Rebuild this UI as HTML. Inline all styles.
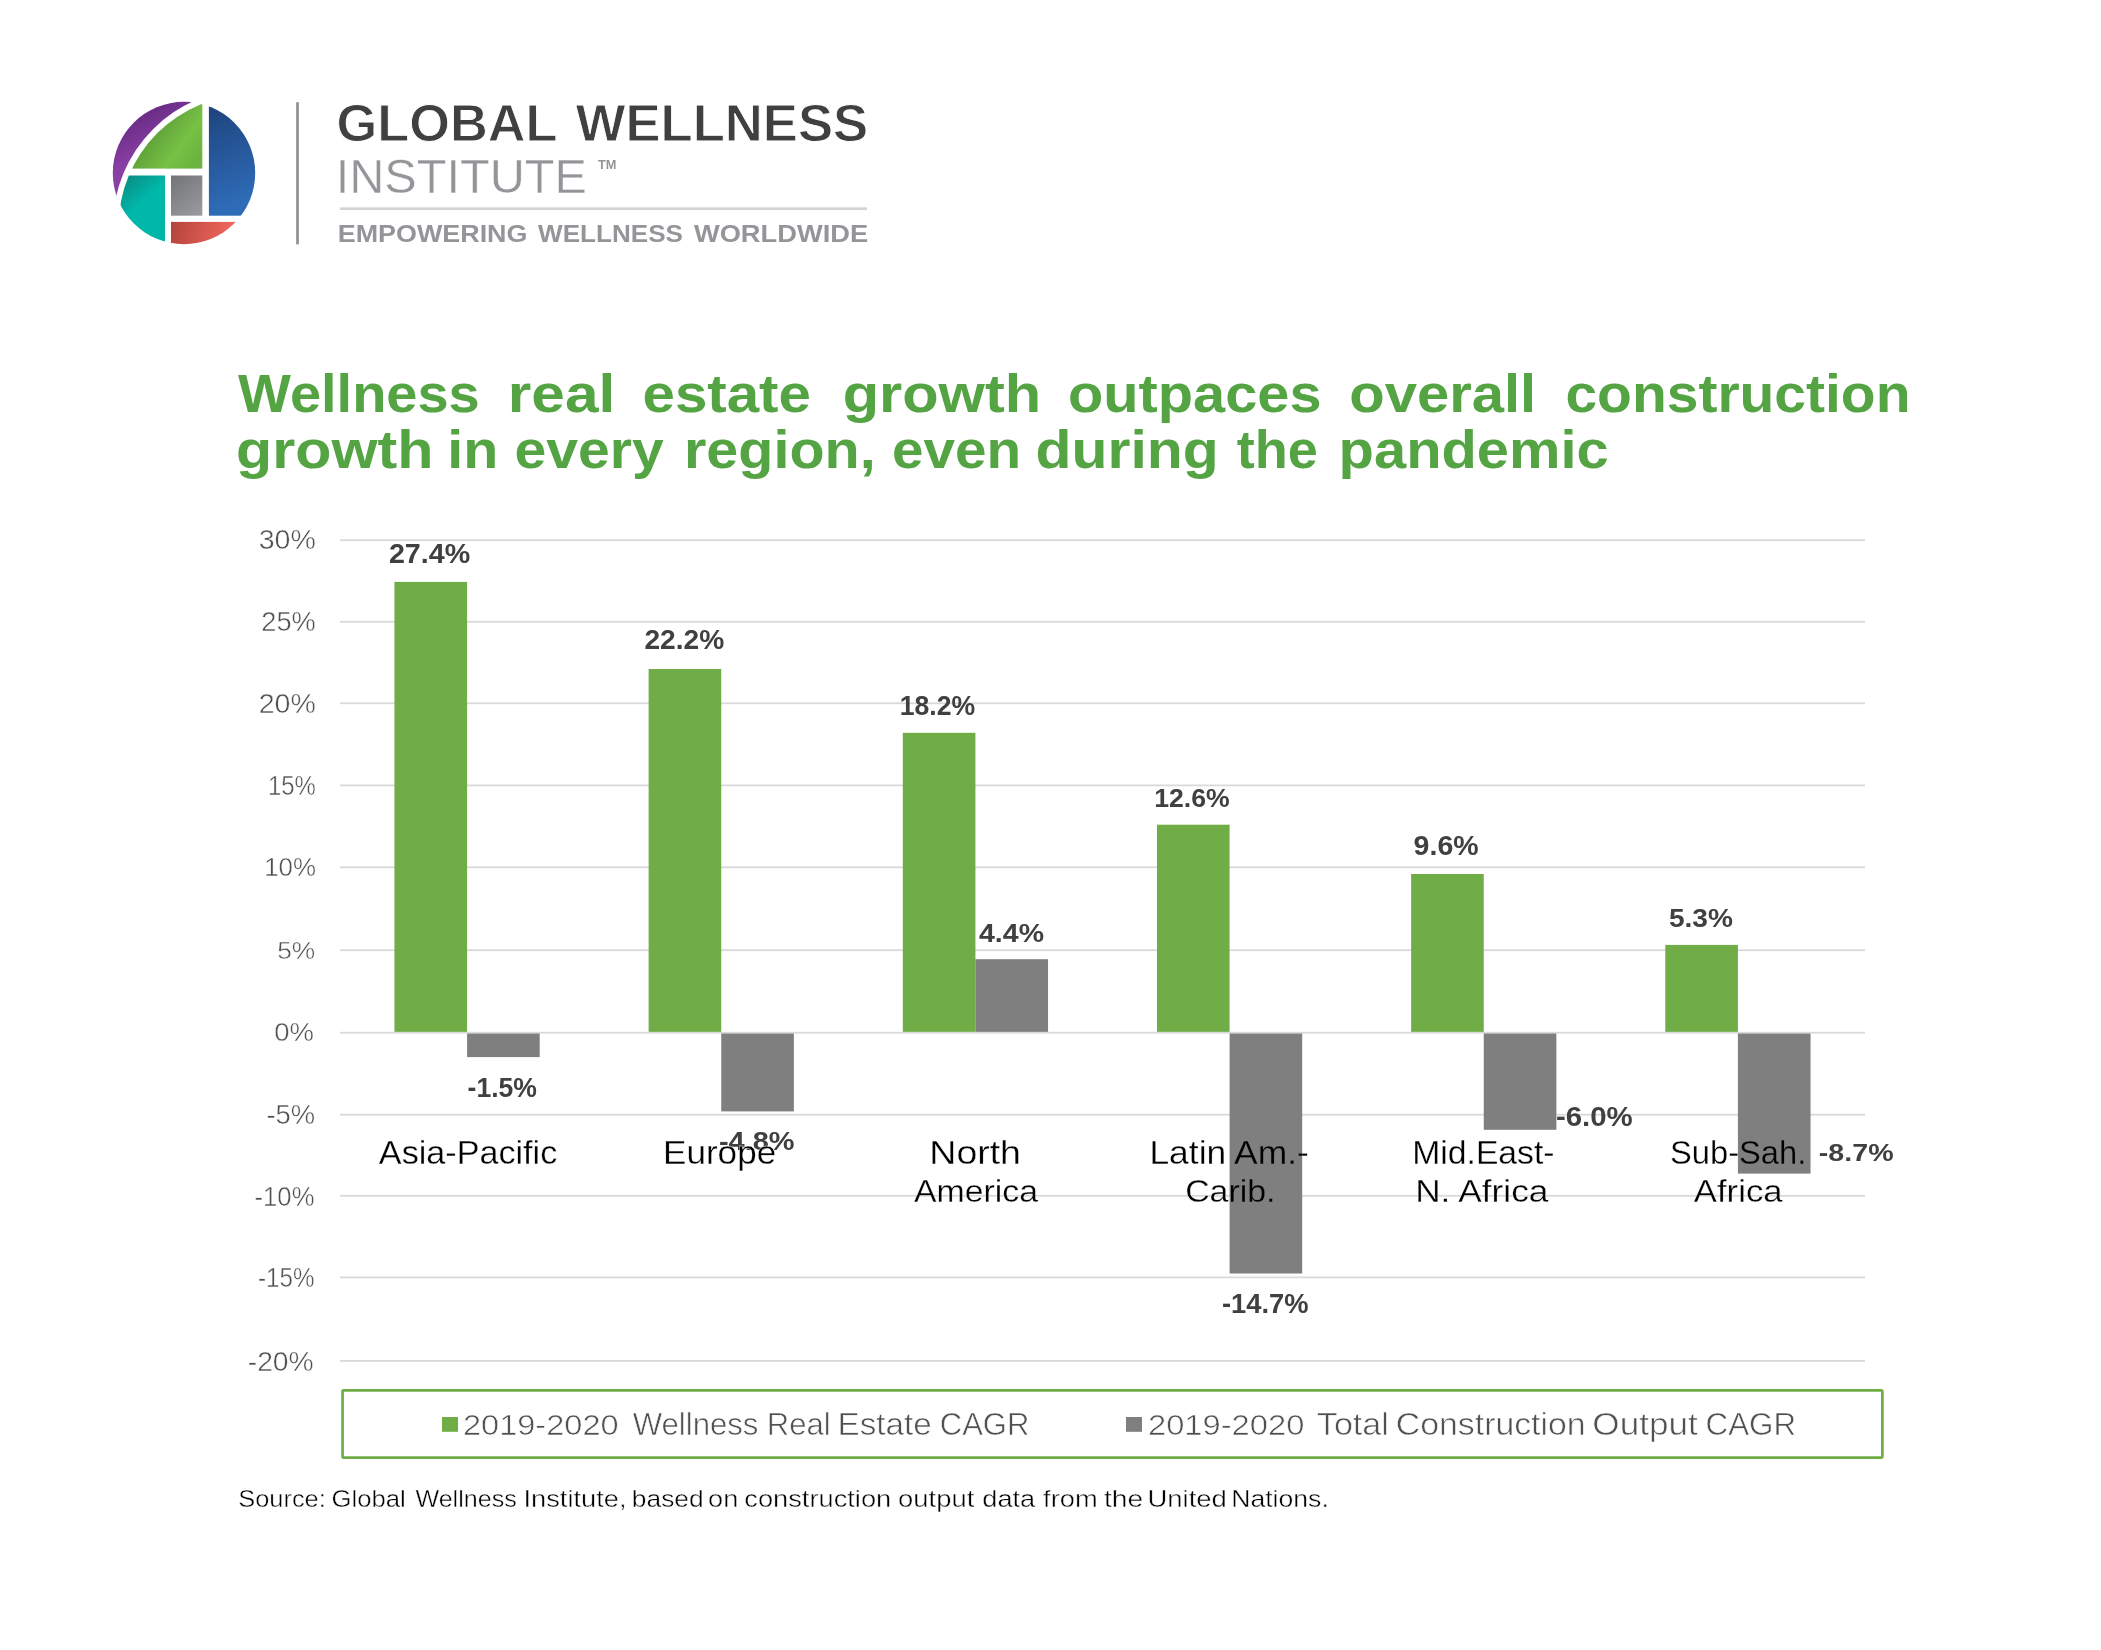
<!DOCTYPE html>
<html><head><meta charset="utf-8"><style>
html,body{margin:0;padding:0;background:#fff;}
svg{display:block;font-family:"Liberation Sans",sans-serif;will-change:transform;}
</style></head><body>
<svg width="2101" height="1650" viewBox="0 0 2101 1650">
<rect width="2101" height="1650" fill="#fff"/>

<defs>
 <clipPath id="cc"><circle cx="184.0" cy="173.0" r="71.2"/></clipPath>
 <clipPath id="cin"><circle cx="250.2" cy="226.3" r="131.6"/></clipPath>
 <linearGradient id="gp" gradientUnits="userSpaceOnUse" x1="128" y1="112" x2="150" y2="152"><stop offset="0" stop-color="#62287e"/><stop offset="1" stop-color="#8a3fa5"/></linearGradient>
 <linearGradient id="gg" gradientUnits="userSpaceOnUse" x1="150" y1="128" x2="196" y2="162"><stop offset="0" stop-color="#5a9c36"/><stop offset="0.62" stop-color="#77c145"/><stop offset="1" stop-color="#6ab43f"/></linearGradient>
 <linearGradient id="gb" gradientUnits="userSpaceOnUse" x1="212" y1="110" x2="250" y2="200"><stop offset="0" stop-color="#1e4580"/><stop offset="1" stop-color="#2f6cb8"/></linearGradient>
 <linearGradient id="gk" gradientUnits="userSpaceOnUse" x1="171" y1="176" x2="202" y2="215"><stop offset="0" stop-color="#737477"/><stop offset="1" stop-color="#9a9b9e"/></linearGradient>
 <linearGradient id="gt" gradientUnits="userSpaceOnUse" x1="125" y1="176" x2="160" y2="215"><stop offset="0" stop-color="#0a8b81"/><stop offset="0.6" stop-color="#00b8aa"/><stop offset="1" stop-color="#00b6a8"/></linearGradient>
 <linearGradient id="gr" gradientUnits="userSpaceOnUse" x1="172" y1="222" x2="232" y2="236"><stop offset="0" stop-color="#b5443e"/><stop offset="1" stop-color="#f2675b"/></linearGradient>
 <mask id="mp"><rect x="100" y="90" width="180" height="170" fill="#fff"/><circle cx="250.2" cy="226.3" r="137.4" fill="#000"/></mask>
</defs>
<g clip-path="url(#cc)">
 <rect x="100" y="90" width="180" height="170" fill="url(#gp)" mask="url(#mp)"/>
 <g clip-path="url(#cin)">
  <rect x="100" y="90" width="102.3" height="78.6" fill="url(#gg)"/>
  <rect x="100" y="175.5" width="65" height="90" fill="url(#gt)"/>
 </g>
 <rect x="208.9" y="90" width="60" height="125.7" fill="url(#gb)"/>
 <rect x="171" y="175.5" width="31.3" height="40.2" fill="url(#gk)"/>
 <rect x="171" y="221.9" width="100" height="40" fill="url(#gr)"/>
</g>
<rect x="296.1" y="102.2" width="2.8" height="142.2" fill="#939598"/>
<rect x="340" y="207.4" width="527" height="2.6" fill="#d1d3d4"/>

<rect x="340" y="539.30" width="1525" height="1.8" fill="#d9d9d9"/>
<rect x="340" y="620.90" width="1525" height="1.8" fill="#d9d9d9"/>
<rect x="340" y="702.40" width="1525" height="1.8" fill="#d9d9d9"/>
<rect x="340" y="784.50" width="1525" height="1.8" fill="#d9d9d9"/>
<rect x="340" y="866.40" width="1525" height="1.8" fill="#d9d9d9"/>
<rect x="340" y="949.30" width="1525" height="1.8" fill="#d9d9d9"/>
<rect x="340" y="1113.80" width="1525" height="1.8" fill="#d9d9d9"/>
<rect x="340" y="1194.90" width="1525" height="1.8" fill="#d9d9d9"/>
<rect x="340" y="1276.50" width="1525" height="1.8" fill="#d9d9d9"/>
<rect x="340" y="1360.00" width="1525" height="1.8" fill="#d9d9d9"/>
<rect x="394.46" y="581.9" width="72.62" height="450.80" fill="#70ad47"/>
<rect x="467.08" y="1032.70" width="72.62" height="24.40" fill="#7f7f7f"/>
<rect x="648.63" y="669.0" width="72.62" height="363.70" fill="#70ad47"/>
<rect x="721.25" y="1032.70" width="72.62" height="78.70" fill="#7f7f7f"/>
<rect x="902.80" y="732.8" width="72.62" height="299.90" fill="#70ad47"/>
<rect x="975.42" y="959.20" width="72.62" height="73.50" fill="#7f7f7f"/>
<rect x="1156.96" y="824.7" width="72.62" height="208.00" fill="#70ad47"/>
<rect x="1229.58" y="1032.70" width="72.62" height="240.80" fill="#7f7f7f"/>
<rect x="1411.13" y="874.0" width="72.62" height="158.70" fill="#70ad47"/>
<rect x="1483.75" y="1032.70" width="72.62" height="97.10" fill="#7f7f7f"/>
<rect x="1665.30" y="944.9" width="72.62" height="87.80" fill="#70ad47"/>
<rect x="1737.92" y="1032.70" width="72.62" height="140.90" fill="#7f7f7f"/>
<rect x="340" y="1031.80" width="1525" height="1.8" fill="#d9d9d9"/>
<rect x="342.55" y="1390.35" width="1539.8" height="67.3" rx="1" fill="none" stroke="#70ad47" stroke-width="2.7"/>
<rect x="442" y="1417" width="16" height="14.8" fill="#70ad47"/>
<rect x="1126" y="1417" width="16" height="14.8" fill="#7f7f7f"/>
<defs>
<clipPath id="in3"><rect x="1229.58" y="1032.7" width="72.62" height="240.80"/></clipPath>
<clipPath id="out3"><path clip-rule="evenodd" d="M0 0H2101V1650H0Z M1229.58 1032.7h72.62V1273.5H1229.58Z"/></clipPath>
<clipPath id="in5"><rect x="1737.92" y="1032.7" width="72.62" height="140.90"/></clipPath>
<clipPath id="out5"><path clip-rule="evenodd" d="M0 0H2101V1650H0Z M1737.92 1032.7h72.62V1173.6H1737.92Z"/></clipPath>
</defs>
<text x="336.46" y="141.45" font-size="52.616" font-weight="700" fill="#404041" textLength="221.10" lengthAdjust="spacingAndGlyphs" stroke="#fff" stroke-width="0.9">GLOBAL</text>
<text x="575.75" y="141.45" font-size="52.326" font-weight="700" fill="#404041" textLength="292.45" lengthAdjust="spacingAndGlyphs" stroke="#fff" stroke-width="0.9">WELLNESS</text>
<text x="335.69" y="193.10" font-size="47.384" font-weight="400" fill="#939598" textLength="251.32" lengthAdjust="spacingAndGlyphs" stroke="#fff" stroke-width="0.4">INSTITUTE</text>
<text x="597.90" y="169.30" font-size="12.500" font-weight="700" fill="#939598" textLength="18.38" lengthAdjust="spacingAndGlyphs">TM</text>
<text x="337.71" y="241.70" font-size="23.547" font-weight="700" fill="#939598" textLength="189.76" lengthAdjust="spacingAndGlyphs">EMPOWERING</text>
<text x="538.10" y="241.70" font-size="23.547" font-weight="700" fill="#939598" textLength="144.81" lengthAdjust="spacingAndGlyphs">WELLNESS</text>
<text x="693.90" y="241.70" font-size="23.547" font-weight="700" fill="#939598" textLength="174.22" lengthAdjust="spacingAndGlyphs">WORLDWIDE</text>
<text x="238.10" y="412.40" font-size="53.000" font-weight="700" fill="#54a444" textLength="241.65" lengthAdjust="spacingAndGlyphs">Wellness</text>
<text x="507.85" y="412.40" font-size="53.000" font-weight="700" fill="#54a444" textLength="107.36" lengthAdjust="spacingAndGlyphs">real</text>
<text x="642.50" y="412.40" font-size="53.000" font-weight="700" fill="#54a444" textLength="168.42" lengthAdjust="spacingAndGlyphs">estate</text>
<text x="842.75" y="412.40" font-size="53.000" font-weight="700" fill="#54a444" textLength="198.32" lengthAdjust="spacingAndGlyphs">growth</text>
<text x="1068.02" y="412.40" font-size="53.000" font-weight="700" fill="#54a444" textLength="253.61" lengthAdjust="spacingAndGlyphs">outpaces</text>
<text x="1349.21" y="412.40" font-size="53.000" font-weight="700" fill="#54a444" textLength="187.05" lengthAdjust="spacingAndGlyphs">overall</text>
<text x="1565.45" y="412.40" font-size="53.000" font-weight="700" fill="#54a444" textLength="345.02" lengthAdjust="spacingAndGlyphs">construction</text>
<text x="236.07" y="468.00" font-size="53.000" font-weight="700" fill="#54a444" textLength="197.28" lengthAdjust="spacingAndGlyphs">growth</text>
<text x="447.37" y="468.00" font-size="53.000" font-weight="700" fill="#54a444" textLength="51.00" lengthAdjust="spacingAndGlyphs">in</text>
<text x="514.54" y="468.00" font-size="53.000" font-weight="700" fill="#54a444" textLength="149.33" lengthAdjust="spacingAndGlyphs">every</text>
<text x="683.96" y="468.00" font-size="53.000" font-weight="700" fill="#54a444" textLength="191.74" lengthAdjust="spacingAndGlyphs">region,</text>
<text x="892.06" y="468.00" font-size="53.000" font-weight="700" fill="#54a444" textLength="129.14" lengthAdjust="spacingAndGlyphs">even</text>
<text x="1035.58" y="468.00" font-size="53.000" font-weight="700" fill="#54a444" textLength="183.21" lengthAdjust="spacingAndGlyphs">during</text>
<text x="1236.68" y="468.00" font-size="53.000" font-weight="700" fill="#54a444" textLength="81.15" lengthAdjust="spacingAndGlyphs">the</text>
<text x="1338.63" y="468.00" font-size="53.000" font-weight="700" fill="#54a444" textLength="270.10" lengthAdjust="spacingAndGlyphs">pandemic</text>
<text x="258.72" y="549.23" font-size="27.149" font-weight="400" fill="#505050" textLength="57.17" lengthAdjust="spacingAndGlyphs" stroke="#fff" stroke-width="0.45">30%</text>
<text x="261.27" y="631.12" font-size="27.149" font-weight="400" fill="#505050" textLength="54.56" lengthAdjust="spacingAndGlyphs" stroke="#fff" stroke-width="0.45">25%</text>
<text x="258.72" y="713.02" font-size="27.149" font-weight="400" fill="#505050" textLength="57.17" lengthAdjust="spacingAndGlyphs" stroke="#fff" stroke-width="0.45">20%</text>
<text x="268.01" y="794.73" font-size="27.149" font-weight="400" fill="#505050" textLength="47.86" lengthAdjust="spacingAndGlyphs" stroke="#fff" stroke-width="0.45">15%</text>
<text x="264.19" y="876.23" font-size="26.146" font-weight="400" fill="#505050" textLength="51.82" lengthAdjust="spacingAndGlyphs" stroke="#fff" stroke-width="0.45">10%</text>
<text x="277.20" y="958.73" font-size="24.570" font-weight="400" fill="#505050" textLength="38.07" lengthAdjust="spacingAndGlyphs" stroke="#fff" stroke-width="0.45">5%</text>
<text x="274.20" y="1041.22" font-size="25.573" font-weight="400" fill="#505050" textLength="39.75" lengthAdjust="spacingAndGlyphs" stroke="#fff" stroke-width="0.45">0%</text>
<text x="266.47" y="1123.72" font-size="27.149" font-weight="400" fill="#505050" textLength="48.72" lengthAdjust="spacingAndGlyphs" stroke="#fff" stroke-width="0.45">-5%</text>
<text x="254.53" y="1205.72" font-size="27.149" font-weight="400" fill="#505050" textLength="59.95" lengthAdjust="spacingAndGlyphs" stroke="#fff" stroke-width="0.45">-10%</text>
<text x="257.91" y="1287.32" font-size="27.865" font-weight="400" fill="#505050" textLength="56.53" lengthAdjust="spacingAndGlyphs" stroke="#fff" stroke-width="0.45">-15%</text>
<text x="247.74" y="1371.12" font-size="27.292" font-weight="400" fill="#505050" textLength="66.00" lengthAdjust="spacingAndGlyphs" stroke="#fff" stroke-width="0.45">-20%</text>
<text x="388.95" y="563.40" font-size="27.221" font-weight="700" fill="#404040" textLength="81.25" lengthAdjust="spacingAndGlyphs">27.4%</text>
<text x="644.45" y="649.20" font-size="26.791" font-weight="700" fill="#404040" textLength="79.84" lengthAdjust="spacingAndGlyphs">22.2%</text>
<text x="899.71" y="714.50" font-size="28.223" font-weight="700" fill="#404040" textLength="75.44" lengthAdjust="spacingAndGlyphs">18.2%</text>
<text x="1154.27" y="807.30" font-size="26.218" font-weight="700" fill="#404040" textLength="75.45" lengthAdjust="spacingAndGlyphs">12.6%</text>
<text x="1413.64" y="854.70" font-size="26.934" font-weight="700" fill="#404040" textLength="64.96" lengthAdjust="spacingAndGlyphs">9.6%</text>
<text x="1668.91" y="926.70" font-size="25.788" font-weight="700" fill="#404040" textLength="63.99" lengthAdjust="spacingAndGlyphs">5.3%</text>
<text x="467.55" y="1096.50" font-size="27.937" font-weight="700" fill="#404040" textLength="69.36" lengthAdjust="spacingAndGlyphs">-1.5%</text>
<text x="718.91" y="1150.00" font-size="26.648" font-weight="700" fill="#404040" textLength="75.70" lengthAdjust="spacingAndGlyphs">-4.8%</text>
<text x="979.00" y="941.80" font-size="26.648" font-weight="700" fill="#404040" textLength="65.04" lengthAdjust="spacingAndGlyphs">4.4%</text>
<text x="1221.99" y="1312.70" font-size="27.077" font-weight="700" fill="#404040" textLength="86.57" lengthAdjust="spacingAndGlyphs">-14.7%</text>
<text x="1555.96" y="1126.20" font-size="28.223" font-weight="700" fill="#404040" textLength="76.79" lengthAdjust="spacingAndGlyphs">-6.0%</text>
<text x="1818.84" y="1160.60" font-size="24.785" font-weight="700" fill="#404040" textLength="74.77" lengthAdjust="spacingAndGlyphs">-8.7%</text>
<text x="378.85" y="1163.85" font-size="32.849" font-weight="400" fill="#000000" textLength="178.44" lengthAdjust="spacingAndGlyphs" stroke="#fff" stroke-width="0.3">Asia-Pacific</text>
<text x="663.05" y="1163.85" font-size="32.849" font-weight="400" fill="#000000" textLength="113.09" lengthAdjust="spacingAndGlyphs" stroke="#fff" stroke-width="0.3">Europe</text>
<text x="929.33" y="1163.85" font-size="32.849" font-weight="400" fill="#000000" textLength="91.63" lengthAdjust="spacingAndGlyphs" stroke="#fff" stroke-width="0.3">North</text>
<text x="913.95" y="1201.75" font-size="32.267" font-weight="400" fill="#000000" textLength="124.10" lengthAdjust="spacingAndGlyphs" stroke="#fff" stroke-width="0.3">America</text>
<text x="1149.41" y="1163.85" font-size="32.849" font-weight="400" fill="#000000" textLength="159.48" lengthAdjust="spacingAndGlyphs" stroke="#7f7f7f" stroke-width="0.3" clip-path="url(#in3)">Latin Am.-</text>
<text x="1149.41" y="1163.85" font-size="32.849" font-weight="400" fill="#000000" textLength="159.48" lengthAdjust="spacingAndGlyphs" stroke="#fff" stroke-width="0.3" clip-path="url(#out3)">Latin Am.-</text>
<text x="1185.15" y="1201.75" font-size="32.267" font-weight="400" fill="#000000" textLength="90.39" lengthAdjust="spacingAndGlyphs" stroke="#7f7f7f" stroke-width="0.3" clip-path="url(#in3)">Carib.</text>
<text x="1185.15" y="1201.75" font-size="32.267" font-weight="400" fill="#000000" textLength="90.39" lengthAdjust="spacingAndGlyphs" stroke="#fff" stroke-width="0.3" clip-path="url(#out3)">Carib.</text>
<text x="1412.27" y="1163.85" font-size="32.849" font-weight="400" fill="#000000" textLength="142.26" lengthAdjust="spacingAndGlyphs" stroke="#fff" stroke-width="0.3">Mid.East-</text>
<text x="1415.17" y="1201.75" font-size="32.267" font-weight="400" fill="#000000" textLength="133.24" lengthAdjust="spacingAndGlyphs" stroke="#fff" stroke-width="0.3">N. Africa</text>
<text x="1670.06" y="1163.85" font-size="32.849" font-weight="400" fill="#000000" textLength="136.25" lengthAdjust="spacingAndGlyphs" stroke="#7f7f7f" stroke-width="0.3" clip-path="url(#in5)">Sub-Sah.</text>
<text x="1670.06" y="1163.85" font-size="32.849" font-weight="400" fill="#000000" textLength="136.25" lengthAdjust="spacingAndGlyphs" stroke="#fff" stroke-width="0.3" clip-path="url(#out5)">Sub-Sah.</text>
<text x="1693.85" y="1201.75" font-size="32.267" font-weight="400" fill="#000000" textLength="88.69" lengthAdjust="spacingAndGlyphs" stroke="#fff" stroke-width="0.3">Africa</text>
<text x="462.95" y="1435.20" font-size="30.372" font-weight="400" fill="#505050" textLength="155.72" lengthAdjust="spacingAndGlyphs" stroke="#fff" stroke-width="0.6">2019-2020</text>
<text x="632.70" y="1435.40" font-size="31.831" font-weight="400" fill="#505050" textLength="125.73" lengthAdjust="spacingAndGlyphs" stroke="#fff" stroke-width="0.6">Wellness</text>
<text x="766.77" y="1435.40" font-size="31.831" font-weight="400" fill="#505050" textLength="63.97" lengthAdjust="spacingAndGlyphs" stroke="#fff" stroke-width="0.6">Real</text>
<text x="837.57" y="1435.40" font-size="31.831" font-weight="400" fill="#505050" textLength="94.01" lengthAdjust="spacingAndGlyphs" stroke="#fff" stroke-width="0.6">Estate</text>
<text x="939.75" y="1435.40" font-size="31.831" font-weight="400" fill="#505050" textLength="89.67" lengthAdjust="spacingAndGlyphs" stroke="#fff" stroke-width="0.6">CAGR</text>
<text x="1147.95" y="1435.20" font-size="30.372" font-weight="400" fill="#505050" textLength="156.43" lengthAdjust="spacingAndGlyphs" stroke="#fff" stroke-width="0.6">2019-2020</text>
<text x="1316.83" y="1435.40" font-size="31.831" font-weight="400" fill="#505050" textLength="72.07" lengthAdjust="spacingAndGlyphs" stroke="#fff" stroke-width="0.6">Total</text>
<text x="1395.88" y="1435.40" font-size="31.831" font-weight="400" fill="#505050" textLength="189.72" lengthAdjust="spacingAndGlyphs" stroke="#fff" stroke-width="0.6">Construction</text>
<text x="1592.39" y="1435.40" font-size="31.831" font-weight="400" fill="#505050" textLength="105.41" lengthAdjust="spacingAndGlyphs" stroke="#fff" stroke-width="0.6">Output</text>
<text x="1705.53" y="1435.40" font-size="31.831" font-weight="400" fill="#505050" textLength="90.51" lengthAdjust="spacingAndGlyphs" stroke="#fff" stroke-width="0.6">CAGR</text>
<text x="238.21" y="1506.80" font-size="23.256" font-weight="400" fill="#000000" textLength="87.63" lengthAdjust="spacingAndGlyphs" stroke="#fff" stroke-width="0.4">Source:</text>
<text x="331.50" y="1506.80" font-size="23.256" font-weight="400" fill="#000000" textLength="74.25" lengthAdjust="spacingAndGlyphs" stroke="#fff" stroke-width="0.4">Global</text>
<text x="415.40" y="1506.80" font-size="23.256" font-weight="400" fill="#000000" textLength="101.38" lengthAdjust="spacingAndGlyphs" stroke="#fff" stroke-width="0.4">Wellness</text>
<text x="523.45" y="1506.80" font-size="23.256" font-weight="400" fill="#000000" textLength="103.06" lengthAdjust="spacingAndGlyphs" stroke="#fff" stroke-width="0.4">Institute,</text>
<text x="631.83" y="1506.80" font-size="23.256" font-weight="400" fill="#000000" textLength="71.81" lengthAdjust="spacingAndGlyphs" stroke="#fff" stroke-width="0.4">based</text>
<text x="708.13" y="1506.80" font-size="23.256" font-weight="400" fill="#000000" textLength="30.19" lengthAdjust="spacingAndGlyphs" stroke="#fff" stroke-width="0.4">on</text>
<text x="744.33" y="1506.80" font-size="23.256" font-weight="400" fill="#000000" textLength="146.86" lengthAdjust="spacingAndGlyphs" stroke="#fff" stroke-width="0.4">construction</text>
<text x="898.12" y="1506.80" font-size="23.256" font-weight="400" fill="#000000" textLength="76.17" lengthAdjust="spacingAndGlyphs" stroke="#fff" stroke-width="0.4">output</text>
<text x="982.33" y="1506.80" font-size="23.256" font-weight="400" fill="#000000" textLength="52.88" lengthAdjust="spacingAndGlyphs" stroke="#fff" stroke-width="0.4">data</text>
<text x="1043.10" y="1506.80" font-size="23.256" font-weight="400" fill="#000000" textLength="54.56" lengthAdjust="spacingAndGlyphs" stroke="#fff" stroke-width="0.4">from</text>
<text x="1104.00" y="1506.80" font-size="23.256" font-weight="400" fill="#000000" textLength="39.21" lengthAdjust="spacingAndGlyphs" stroke="#fff" stroke-width="0.4">the</text>
<text x="1147.44" y="1506.80" font-size="23.256" font-weight="400" fill="#000000" textLength="79.40" lengthAdjust="spacingAndGlyphs" stroke="#fff" stroke-width="0.4">United</text>
<text x="1231.21" y="1506.80" font-size="23.256" font-weight="400" fill="#000000" textLength="97.62" lengthAdjust="spacingAndGlyphs" stroke="#fff" stroke-width="0.4">Nations.</text>
</svg>
</body></html>
